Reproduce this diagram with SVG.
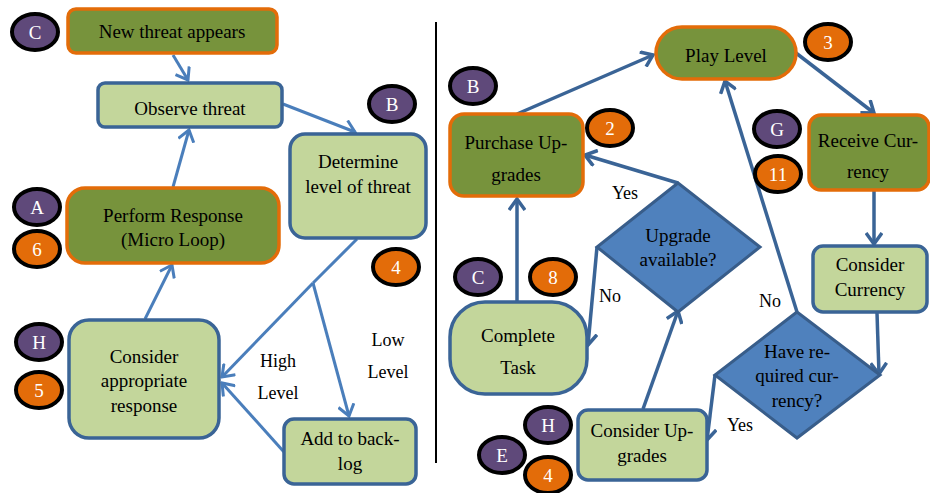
<svg xmlns="http://www.w3.org/2000/svg" width="930" height="493" viewBox="0 0 930 493">
<defs>
<style>
text{font-family:"Liberation Serif","Times New Roman",serif}
.t{font-size:19px;fill:#000;text-anchor:middle}
.bt{font-size:19px;fill:#fff;text-anchor:middle}
.lbl{font-size:18px;fill:#000;text-anchor:middle}
.dark{fill:#77933C;stroke:#E36C09;stroke-width:3.5}
.light{fill:#C3D69B;stroke:#3A6496;stroke-width:3.5}
.dia{fill:#4F81BD;stroke:#385D8A;stroke-width:3}
.bp{fill:#5F497A;stroke:#000;stroke-width:4}
.bo{fill:#E36C09;stroke:#000;stroke-width:4}
.cl{fill:none;stroke:#4A7EBB;stroke-width:3}
.cr{fill:none;stroke:#3A6496;stroke-width:3.5}
</style>
<marker id="al" viewBox="-12 -9 14 18" refX="0" refY="0" markerWidth="14" markerHeight="18" markerUnits="userSpaceOnUse" orient="auto">
<path d="M-11,-8 L0,0 L-11,8" fill="none" stroke="#4A7EBB" stroke-width="3"/>
</marker>
<marker id="ar" viewBox="-12 -9 14 18" refX="0" refY="0" markerWidth="14" markerHeight="18" markerUnits="userSpaceOnUse" orient="auto">
<path d="M-11,-8 L0,0 L-11,8" fill="none" stroke="#3A6496" stroke-width="3.5"/>
</marker>
</defs>
<rect width="930" height="493" fill="#fff"/>
<g id="connectors">
<line class="cl" x1="173" y1="55" x2="188" y2="80" marker-end="url(#al)"/>
<line class="cl" x1="173" y1="187" x2="189" y2="130" marker-end="url(#al)"/>
<line class="cl" x1="283" y1="104" x2="355" y2="132" marker-end="url(#al)"/>
<polyline class="cl" points="357,239 313,283"/>
<line class="cl" x1="313" y1="283" x2="222" y2="377" marker-end="url(#al)"/>
<line class="cl" x1="313" y1="283" x2="349" y2="416" marker-end="url(#al)"/>
<line class="cl" x1="284" y1="452" x2="222" y2="383" marker-end="url(#al)"/>
<line class="cl" x1="145" y1="319" x2="172" y2="265" marker-end="url(#al)"/>
<line x1="436" y1="22" x2="436" y2="463" stroke="#000" stroke-width="2"/>
<line class="cr" x1="517" y1="114" x2="653" y2="55" marker-end="url(#ar)"/>
<line class="cr" x1="796" y1="53" x2="874" y2="113" marker-end="url(#ar)"/>
<line class="cr" x1="874" y1="190" x2="874" y2="244" marker-end="url(#ar)"/>
<line class="cr" x1="877" y1="313" x2="879" y2="374" marker-end="url(#ar)"/>
<line class="cr" x1="797" y1="312" x2="725" y2="81" marker-end="url(#ar)"/>
<polyline class="cr" points="715,375 707,440" marker-end="url(#ar)"/>
<line class="cr" x1="678" y1="183" x2="585" y2="155" marker-end="url(#ar)"/>
<polyline class="cr" points="597,247 588,345" marker-end="url(#ar)"/>
<line class="cr" x1="643" y1="409" x2="678" y2="311" marker-end="url(#ar)"/>
<line class="cr" x1="517" y1="302" x2="517" y2="199" marker-end="url(#ar)"/>
</g>
<g id="lbl-high"><text class="lbl" x="278" y="367">High</text><text class="lbl" x="278" y="399">Level</text></g>
<g id="lbl-low"><text class="lbl" x="388" y="346">Low</text><text class="lbl" x="388" y="378">Level</text></g>
<g id="lbl-yes1"><text class="lbl" x="625" y="199">Yes</text></g>
<g id="lbl-no1"><text class="lbl" x="610" y="302">No</text></g>
<g id="lbl-no2"><text class="lbl" x="770" y="307">No</text></g>
<g id="lbl-yes2"><text class="lbl" x="740" y="431">Yes</text></g>
<g id="new-threat"><rect class="dark" x="68" y="9" width="209" height="44" rx="8"/><text class="t" x="172" y="38">New threat appears</text></g>
<g id="observe"><rect class="light" x="98" y="83" width="184" height="44" rx="7"/><text class="t" x="190" y="115">Observe threat</text></g>
<g id="determine"><rect class="light" x="290" y="134" width="136" height="104" rx="15"/><text class="t" x="358" y="168">Determine</text><text class="t" x="358" y="193">level of threat</text></g>
<g id="perform"><rect class="dark" x="67" y="188" width="212" height="75" rx="18"/><text class="t" x="173" y="222">Perform Response</text><text class="t" x="173" y="246">(Micro Loop)</text></g>
<g id="consider-resp"><rect class="light" x="69" y="320" width="150" height="118" rx="20"/><text class="t" x="144" y="363">Consider</text><text class="t" x="144" y="387">appropriate</text><text class="t" x="144" y="412">response</text></g>
<g id="backlog"><rect class="light" x="284" y="419" width="132" height="65" rx="10"/><text class="t" x="350" y="445">Add to back-</text><text class="t" x="350" y="470">log</text></g>
<g id="play"><rect class="dark" x="656" y="27" width="140" height="52" rx="26"/><text class="t" x="726" y="62">Play Level</text></g>
<g id="purchase"><rect class="dark" x="450" y="114" width="133" height="82" rx="14"/><text class="t" x="516" y="149">Purchase Up-</text><text class="t" x="516" y="181">grades</text></g>
<g id="receive"><rect class="dark" x="809" y="115" width="120" height="75" rx="12"/><text class="t" x="868" y="147">Receive Cur-</text><text class="t" x="868" y="178">rency</text></g>
<g id="consider-cur"><rect class="light" x="813" y="246" width="114" height="66" rx="10"/><text class="t" x="870" y="271">Consider</text><text class="t" x="870" y="296">Currency</text></g>
<g id="have-cur"><polygon class="dia" points="797,312 880,375 797,438 715,375"/><text class="t" x="797" y="358">Have re-</text><text class="t" x="797" y="382">quired cur-</text><text class="t" x="797" y="407">rency?</text></g>
<g id="upgrade-avail"><polygon class="dia" points="678,183 760,247 678,312 597,247"/><text class="t" x="678" y="242">Upgrade</text><text class="t" x="678" y="266">available?</text></g>
<g id="complete"><rect class="light" x="450" y="302" width="137" height="92" rx="35"/><text class="t" x="518" y="342">Complete</text><text class="t" x="518" y="374">Task</text></g>
<g id="consider-up"><rect class="light" x="578" y="410" width="129" height="70" rx="10"/><text class="t" x="642" y="437">Consider Up-</text><text class="t" x="642" y="462">grades</text></g>
<g id="badges">
<g id="b-c1"><ellipse class="bp" cx="35" cy="32" rx="23" ry="18"/><text class="bt" x="35" y="39">C</text></g>
<g id="b-b1"><ellipse class="bp" cx="392" cy="104" rx="23" ry="18"/><text class="bt" x="392" y="111">B</text></g>
<g id="b-a"><ellipse class="bp" cx="37" cy="207" rx="23" ry="18"/><text class="bt" x="37" y="214">A</text></g>
<g id="b-6"><ellipse class="bo" cx="37" cy="249" rx="23" ry="18"/><text class="bt" x="37" y="256">6</text></g>
<g id="b-4a"><ellipse class="bo" cx="396" cy="267" rx="23" ry="18"/><text class="bt" x="396" y="274">4</text></g>
<g id="b-h1"><ellipse class="bp" cx="39" cy="342" rx="23" ry="18"/><text class="bt" x="39" y="349">H</text></g>
<g id="b-5"><ellipse class="bo" cx="39" cy="390" rx="23" ry="18"/><text class="bt" x="39" y="397">5</text></g>
<g id="b-b2"><ellipse class="bp" cx="473" cy="86" rx="23" ry="18"/><text class="bt" x="473" y="93">B</text></g>
<g id="b-2"><ellipse class="bo" cx="610" cy="128" rx="23" ry="18"/><text class="bt" x="610" y="135">2</text></g>
<g id="b-3"><ellipse class="bo" cx="828" cy="42" rx="23" ry="18"/><text class="bt" x="828" y="49">3</text></g>
<g id="b-g"><ellipse class="bp" cx="777" cy="129" rx="23" ry="18"/><text class="bt" x="777" y="136">G</text></g>
<g id="b-11"><ellipse class="bo" cx="778" cy="174" rx="23" ry="18"/><text class="bt" x="778" y="181">11</text></g>
<g id="b-c2"><ellipse class="bp" cx="478" cy="277" rx="23" ry="18"/><text class="bt" x="478" y="284">C</text></g>
<g id="b-8"><ellipse class="bo" cx="553" cy="277" rx="23" ry="18"/><text class="bt" x="553" y="284">8</text></g>
<g id="b-h2"><ellipse class="bp" cx="548" cy="425" rx="23" ry="18"/><text class="bt" x="548" y="432">H</text></g>
<g id="b-e"><ellipse class="bp" cx="502" cy="455" rx="23" ry="18"/><text class="bt" x="502" y="462">E</text></g>
<g id="b-4b"><ellipse class="bo" cx="548" cy="475" rx="23" ry="18"/><text class="bt" x="548" y="482">4</text></g>
</g>
</svg>
